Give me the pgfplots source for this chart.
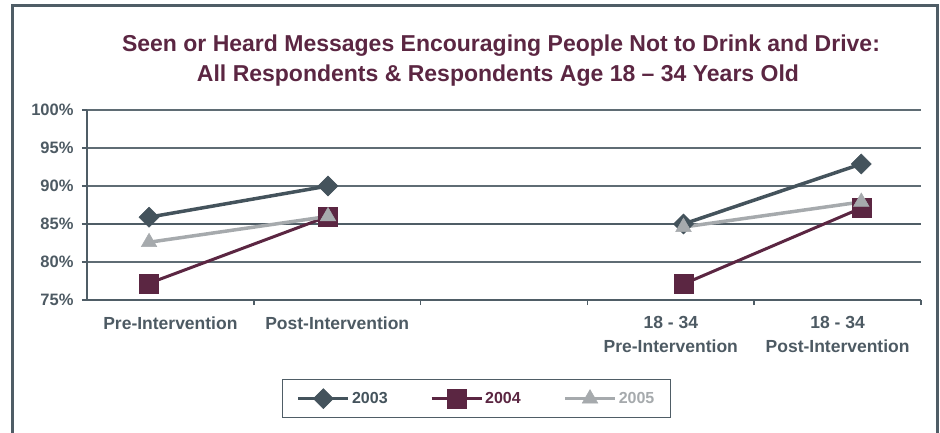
\documentclass[border=0pt]{standalone}
\usepackage{fontspec}
\setmainfont{Liberation Sans}
\usepackage{pgfplots}
\pgfplotsset{compat=1.18}
\definecolor{slate}{HTML}{44535C}
\definecolor{maroon}{HTML}{5B2642}
\definecolor{lgray}{HTML}{A6AAAD}
\definecolor{axisgray}{HTML}{4F5D66}
\definecolor{gridgray}{HTML}{5F6C74}
\definecolor{textgray}{HTML}{4D5A63}
\begin{document}
\begin{tikzpicture}[x=1pt,y=1pt]
\useasboundingbox (0,0) rectangle (940,432);
\draw[color=axisgray, line width=3pt] (12,-20) -- (12,426) -- (937.5,426) -- (937.5,-20);
\node[anchor=base, font=\fontsize{23}{28}\selectfont\bfseries, text=maroon, inner sep=0pt] at (501,380) {Seen or Heard Messages Encouraging People Not to Drink and Drive:};
\node[anchor=base, font=\fontsize{23}{28}\selectfont\bfseries, text=maroon, inner sep=0pt] at (498,350) {All Respondents \& Respondents Age 18 -- 34 Years Old};
\begin{axis}[
  at={(87pt,132pt)}, anchor=south west,
  scale only axis, width=834pt, height=190pt,
  xmin=0, xmax=5, ymin=75, ymax=100,
  axis x line*=bottom, axis y line*=left,
  axis line style={-, line width=1.5pt, color=axisgray},
  ytick={75,80,...,100},
  yticklabel={\pgfmathprintnumber{\tick}\%},
  /pgf/number format/assume math mode=true,
  ymajorgrids, grid style={line width=1.4pt, color=gridgray},
  extra y ticks={85}, extra y tick labels={},
  extra y tick style={grid style={line width=2.6pt, color=axisgray}},
  tick style={line width=1.5pt, color=axisgray},
  tick align=outside, major tick length=5pt,
  xtick={1,2,3,4,5}, xticklabels={},
  extra x ticks={0.5,1.5,3.5,4.5},
  extra x tick labels={Pre-Intervention, Post-Intervention, {18 - 34\\Pre-Intervention}, {18 - 34\\Post-Intervention}},
  extra x tick style={major tick length=0pt, tick style={draw=none}},
  xticklabel style={align=center, font=\fontsize{17.5}{23.5}\selectfont\bfseries, text=textgray, yshift=-13pt},
  yticklabel style={font=\fontsize{16.5}{20}\selectfont\bfseries, text=textgray, xshift=-5pt},
  unbounded coords=jump,
  legend columns=3,
  legend cell align=left,
  legend style={at={(0.2338,-0.4158)}, anchor=north west, draw=axisgray, line width=1.2pt,
    inner xsep=14pt, inner ysep=9pt,
    font=\fontsize{16}{19}\selectfont\bfseries,
    /tikz/every even column/.append style={column sep=40.5pt}},
  legend image code/.code={\draw[mark repeat=2,mark phase=2] plot coordinates {(0pt,0pt) (25pt,0pt) (50pt,0pt)};},
]
\addplot[color=slate, line width=3.5pt, mark=square*, mark size=7.1pt, mark options={rotate=45, line width=0.5pt}]
  coordinates {(0.372,85.9) (1.445,90.0) (2.5,nan) (3.576,85.0) (4.642,92.9)};
\addlegendentry{\textcolor{slate}{2003}}
\addplot[color=maroon, line width=3pt, mark=square*, mark size=9.5pt, mark options={line width=0.5pt}]
  coordinates {(0.372,77.2) (1.445,86.0) (2.5,nan) (3.576,77.1) (4.642,87.1)};
\addlegendentry{\textcolor{maroon}{2004}}
\addplot[color=lgray, line width=3.5pt, mark=triangle*, mark size=9pt, mark options={line width=0.5pt}]
  coordinates {(0.372,82.6) (1.445,86.0) (2.5,nan) (3.576,84.6) (4.642,87.9)};
\addlegendentry{\textcolor{lgray}{2005}}
\end{axis}
\end{tikzpicture}
\end{document}
